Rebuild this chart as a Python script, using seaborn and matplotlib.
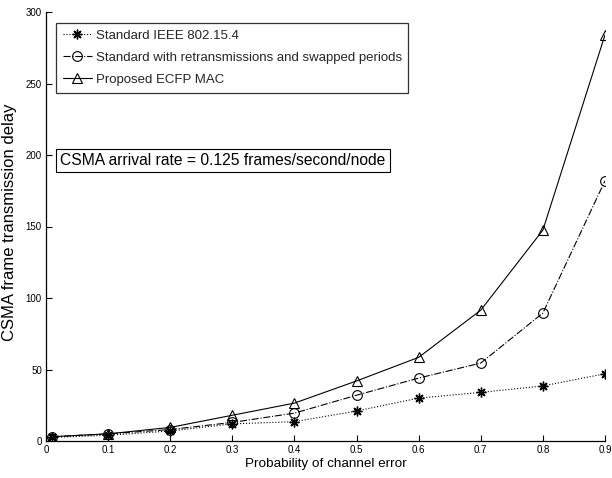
import matplotlib
matplotlib.use("Agg")
import matplotlib.pyplot as plt
import seaborn as sns
import pandas as pd

x_vals = [0.01, 0.1, 0.2, 0.3, 0.4, 0.5, 0.6, 0.7, 0.8, 0.9]
standard = [2.5, 4, 7, 12, 13.5, 21, 30, 34, 38.5, 47]
retrans = [3, 5, 8, 13, 19.5, 32, 44, 54.5, 89.5, 182]
proposed = [3, 5, 9.5, 18, 26.5, 42, 58.5, 91.5, 147.5, 284]
labels = ["Standard IEEE 802.15.4",
          "Standard with retransmissions and swapped periods",
          "Proposed ECFP MAC"]
xticks = [0, 0.1, 0.2, 0.3, 0.4, 0.5, 0.6, 0.7, 0.8, 0.9]
xticklabels = ["0", "0.1", "0.2", "0.3", "0.4", "0.5", "0.6", "0.7", "0.8", "0.9"]
yticks = [0, 50, 100, 150, 200, 250, 300]

sns.set_theme(style="white")
plt.rcParams['font.family'] = ['Liberation Sans', 'DejaVu Sans']

fig = plt.figure(figsize=(6.12, 4.78), dpi=100)
ax = fig.add_axes([46/612, 37/478, (605-46)/612, (441-12)/478])

styles = [
    dict(linestyle=':', marker=(8, 2, 0), markersize=7, mew=1.0),
    dict(linestyle='-.', marker='o', markersize=7, mfc='none', mew=0.8),
    dict(linestyle='-', marker='^', markersize=7.5, mfc='none', mew=0.8),
]
for vals, lab, st in zip([standard, retrans, proposed], labels, styles):
    df = pd.DataFrame({"x": x_vals, "y": vals})
    sns.lineplot(data=df, x="x", y="y", ax=ax, color='black', lw=0.8,
                 mec='black', label=lab, **st)

ax.set_xlim(0, 0.9)
ax.set_ylim(0, 300)
ax.set_xticks(xticks)
ax.set_xticklabels(xticklabels)
ax.set_yticks(yticks)
ax.tick_params(axis='both', direction='in', length=4, width=0.8, labelsize=7,
               colors='black', bottom=True, left=True, pad=3)
for s in ['top', 'right']:
    ax.spines[s].set_visible(False)
for s in ['left', 'bottom']:
    ax.spines[s].set_color('black')
    ax.spines[s].set_linewidth(0.9)
ax.set_xlabel("Probability of channel error", fontsize=9.7, color='black', labelpad=2)
ax.set_ylabel("CSMA frame transmission delay", fontsize=12, color='black')
ax.yaxis.set_label_coords((17 - 46) / 559, 0.51)

leg = ax.legend(loc='upper left', bbox_to_anchor=(10/559, 1 - 11/429), fontsize=9.5,
                frameon=True, fancybox=False, handlelength=2.2, handletextpad=0.3,
                borderpad=0.5, labelspacing=0.75, borderaxespad=0)
leg.get_frame().set_edgecolor('black')
leg.get_frame().set_linewidth(0.9)

ax.text(14/559, 1 - 141/429, "CSMA arrival rate = 0.125 frames/second/node",
        transform=ax.transAxes, fontsize=11.25, va='top', ha='left', color='black',
        bbox=dict(boxstyle='square,pad=0.28', fc='white', ec='black', lw=0.8))

fig.savefig("out.png", dpi=100)
